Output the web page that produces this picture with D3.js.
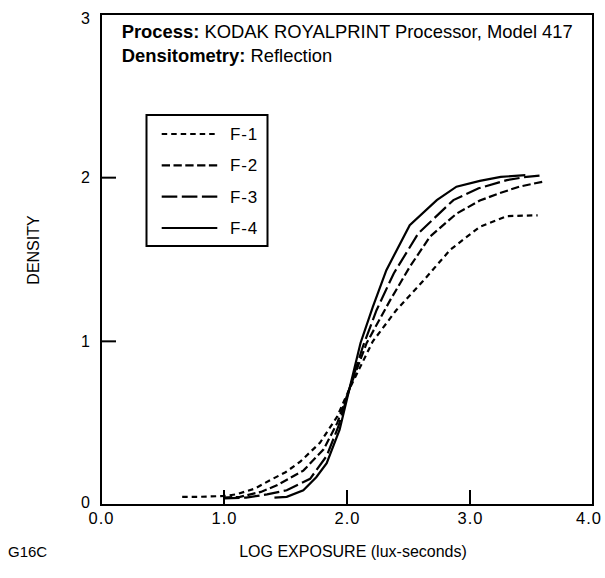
<!DOCTYPE html>
<html>
<head>
<meta charset="utf-8">
<script src="https://cdn.jsdelivr.net/npm/d3@7"></script>
<style>
  html, body { margin: 0; padding: 0; background: #fff; }
  svg text { font-family: "Liberation Sans", Arial, Helvetica, sans-serif; fill: #000; }
</style>
</head>
<body>
<svg id="chart" width="605" height="578"></svg>
<script>
// ---- data ----
const xTicks = [0, 1, 2, 3, 4];
const xTickLabels = ["0.0", "1.0", "2.0", "3.0", "4.0"];
const yTicks = [0, 1, 2, 3];
const yTickLabels = ["0", "1", "2", "3"];
const seriesNames = ["F-1", "F-2", "F-3", "F-4"];

const f1 = [[0.66,0.05],[0.80,0.05],[1.0,0.055],[1.10,0.065],[1.25,0.10],[1.37,0.15],[1.50,0.20],[1.62,0.265],[1.78,0.38],[1.92,0.54],[2.02,0.71],[2.21,1.0],[2.40,1.19],[2.62,1.37],[2.84,1.56],[3.08,1.70],[3.30,1.765],[3.55,1.77]];
const f2 = [[1.0,0.045],[1.13,0.05],[1.30,0.08],[1.43,0.12],[1.645,0.21],[1.81,0.34],[1.92,0.50],[2.02,0.71],[2.16,0.99],[2.35,1.25],[2.51,1.455],[2.675,1.64],[2.89,1.78],[3.08,1.86],[3.22,1.90],[3.40,1.945],[3.59,1.975]];
const f3 = [[1.0,0.04],[1.18,0.045],[1.35,0.065],[1.51,0.09],[1.70,0.16],[1.835,0.30],[1.93,0.48],[2.02,0.71],[2.13,0.97],[2.24,1.19],[2.38,1.415],[2.58,1.66],[2.865,1.863],[3.07,1.935],[3.30,1.985],[3.46,2.005],[3.60,2.015]];
const f4 = [[1.41,0.045],[1.51,0.05],[1.645,0.09],[1.75,0.17],[1.835,0.255],[1.94,0.46],[2.02,0.71],[2.11,0.99],[2.21,1.21],[2.32,1.435],[2.51,1.71],[2.73,1.863],[2.89,1.945],[3.08,1.98],[3.25,2.005],[3.45,2.015]];
const seriesData = [f1, f2, f3, f4];
const seriesDash = ["5.5,4", "8.3,3.5", "15.6,4.5", null];

// ---- layout ----
const svg = d3.select("#chart");
const pL = 101, pR = 593, pT = 14, pB = 505;
const x = d3.scaleLinear().domain([0, 4]).range([pL, pR]);
const y = d3.scaleLinear().domain([0, 3]).range([pB, pT]);
const fs = 16;
const hfs = 18.4;

// frame
svg.append("rect")
  .attr("x", pL).attr("y", pT)
  .attr("width", pR - pL).attr("height", pB - pT)
  .attr("fill", "none").attr("stroke", "#000").attr("stroke-width", 2);

// inner ticks
svg.selectAll(".xt").data(xTicks.filter(d => d > 0 && d < 4)).enter().append("line")
  .attr("x1", d => x(d)).attr("x2", d => x(d))
  .attr("y1", pB).attr("y2", pB - 15)
  .attr("stroke", "#000").attr("stroke-width", 2);
svg.selectAll(".yt").data(yTicks.filter(d => d > 0 && d < 3)).enter().append("line")
  .attr("x1", pL).attr("x2", pL + 15)
  .attr("y1", d => y(d)).attr("y2", d => y(d))
  .attr("stroke", "#000").attr("stroke-width", 2);

// tick labels
svg.selectAll(".xl").data(xTicks).enter().append("text")
  .attr("x", d => Math.min(x(d) + 0.5, 589))
  .attr("y", 523.5)
  .attr("text-anchor", "middle").attr("font-size", 16.5)
  .attr("letter-spacing", 1)
  .text((d, i) => xTickLabels[i]);
svg.selectAll(".yl").data(yTicks).enter().append("text")
  .attr("x", 90).attr("y", d => y(d) + 5.5 + (d === 3 ? 4 : 0) - (d === 0 ? 2.5 : 0))
  .attr("text-anchor", "end").attr("font-size", fs)
  .text((d, i) => yTickLabels[i]);

// axis titles
svg.append("text")
  .attr("transform", "translate(39,250) rotate(-90)")
  .attr("text-anchor", "middle").attr("font-size", fs)
  .text("DENSITY");
svg.append("text")
  .attr("x", 353).attr("y", 556.5)
  .attr("text-anchor", "middle").attr("font-size", fs)
  .text("LOG EXPOSURE (lux-seconds)");
svg.append("text")
  .attr("x", 8).attr("y", 556.5)
  .attr("font-size", fs - 1)
  .text("G16C");

// header
const h1 = svg.append("text").attr("x", 121.7).attr("y", 38).attr("font-size", hfs);
h1.append("tspan").attr("font-weight", "bold").text("Process:");
h1.append("tspan").text(" KODAK ROYALPRINT Processor, Model 417");
const h2 = svg.append("text").attr("x", 121.7).attr("y", 62).attr("font-size", hfs);
h2.append("tspan").attr("font-weight", "bold").text("Densitometry:");
h2.append("tspan").text(" Reflection");

// curves
const line = d3.line().x(d => x(d[0])).y(d => y(d[1])).curve(d3.curveLinear);
seriesData.forEach((s, i) => {
  svg.append("path")
    .datum(s)
    .attr("d", line)
    .attr("fill", "none").attr("stroke", "#000").attr("stroke-width", 2.2)
    .attr("stroke-dasharray", seriesDash[i]);
});

// legend
svg.append("rect")
  .attr("x", 146.5).attr("y", 115).attr("width", 121).attr("height", 131)
  .attr("fill", "#fff").attr("stroke", "#000").attr("stroke-width", 2);
const legendY = d3.scalePoint().domain(seriesNames).range([134, 228]);
seriesNames.forEach((n, i) => {
  const ly = legendY(n);
  svg.append("line")
    .attr("x1", 161.7).attr("x2", 217.3).attr("y1", ly).attr("y2", ly)
    .attr("stroke", "#000").attr("stroke-width", 2.2)
    .attr("stroke-dasharray", seriesDash[i]);
  svg.append("text")
    .attr("x", 230).attr("y", ly + 6).attr("font-size", 17)
    .attr("letter-spacing", 0.8)
    .text(n);
});
</script>
</body>
</html>
